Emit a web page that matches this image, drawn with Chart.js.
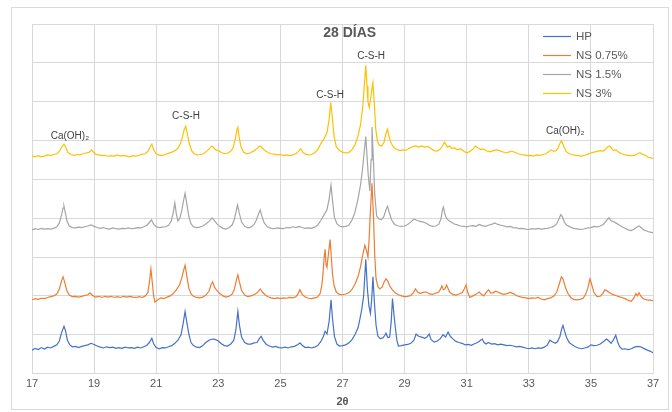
<!DOCTYPE html>
<html>
<head>
<meta charset="utf-8">
<script src="https://cdn.jsdelivr.net/npm/chart.js@4.4.0/dist/chart.umd.min.js"></script>
<style>
  html, body { margin: 0; padding: 0; background: #ffffff; }
  canvas { display: block; }
</style>
</head>
<body>
<canvas id="xrdChart" width="672" height="412"></canvas>
<script>
// series labels and colours (Excel default palette)
const seriesNames = ['HP', 'NS 0.75%', 'NS 1.5%', 'NS 3%'];
const seriesColors = ['#4472C4', '#ED7D31', '#A5A5A5', '#FFC000'];

// [2θ, offset intensity]
const hpPoints = [
  [17.0,6.0],[17.1,6.5],[17.2,6.2],[17.3,6.7],[17.4,6.3],[17.5,6.8],[17.6,6.6],[17.7,7.0],[17.8,7.4],[17.88,8.4],
  [17.95,10.5],[18.03,12.2],[18.08,11.0],[18.14,8.6],[18.22,7.4],[18.3,6.9],[18.4,7.0],[18.5,6.7],[18.6,7.0],[18.7,7.2],
  [18.8,7.4],[18.9,7.8],[19.0,7.5],[19.1,7.1],[19.2,6.8],[19.3,6.6],[19.4,6.9],[19.5,6.7],[19.6,6.8],[19.7,6.5],
  [19.8,6.7],[19.9,6.5],[20.0,6.8],[20.1,6.6],[20.2,6.7],[20.3,6.5],[20.4,6.8],[20.5,6.6],[20.6,6.9],[20.7,7.3],
  [20.78,8.0],[20.86,9.1],[20.92,7.6],[21.0,6.7],[21.1,6.4],[21.2,6.7],[21.3,6.6],[21.4,6.9],[21.5,7.2],[21.6,7.8],
  [21.7,8.6],[21.8,10.0],[21.87,13.0],[21.93,16.0],[21.98,13.5],[22.05,10.2],[22.12,8.0],[22.2,7.2],[22.3,6.8],[22.4,6.7],
  [22.5,7.2],[22.6,8.0],[22.7,8.6],[22.8,8.9],[22.9,8.8],[23.0,8.4],[23.1,7.7],[23.2,7.2],[23.3,7.1],[23.4,7.6],
  [23.5,8.6],[23.57,11.5],[23.63,16.0],[23.68,12.5],[23.75,9.4],[23.85,8.0],[23.95,7.6],[24.05,7.6],[24.15,7.9],[24.25,8.0],
  [24.32,9.0],[24.38,9.6],[24.45,8.5],[24.55,7.5],[24.65,7.1],[24.75,6.8],[24.85,7.0],[24.95,6.7],[25.05,6.6],[25.15,6.8],
  [25.25,6.6],[25.35,6.9],[25.45,7.0],[25.55,7.4],[25.63,7.9],[25.7,7.3],[25.8,6.7],[25.9,6.8],[26.0,6.6],[26.1,6.8],
  [26.2,7.2],[26.3,8.2],[26.38,9.5],[26.44,10.9],[26.5,10.2],[26.57,13.5],[26.63,19.0],[26.68,14.0],[26.74,9.6],[26.82,7.6],
  [26.9,7.1],[27.0,7.2],[27.1,7.4],[27.2,7.9],[27.3,8.7],[27.4,10.0],[27.5,11.8],[27.56,14.0],[27.62,16.5],[27.68,20.0],
  [27.75,29.4],[27.8,22.0],[27.85,17.5],[27.9,15.5],[27.94,19.0],[27.98,24.9],[28.03,18.0],[28.08,12.5],[28.14,9.6],[28.22,9.0],
  [28.3,9.2],[28.36,9.8],[28.4,10.4],[28.46,9.3],[28.52,9.4],[28.57,13.5],[28.61,19.3],[28.66,15.0],[28.7,12.0],[28.75,8.6],
  [28.8,7.1],[28.9,7.2],[29.0,7.4],[29.1,7.5],[29.2,7.8],[29.3,8.6],[29.37,10.2],[29.45,9.6],[29.55,9.4],[29.65,9.1],
  [29.72,9.4],[29.79,10.2],[29.85,8.8],[29.95,8.1],[30.05,8.4],[30.15,9.0],[30.24,10.0],[30.32,9.4],[30.4,10.7],[30.47,9.6],
  [30.55,9.0],[30.65,8.3],[30.75,8.0],[30.85,7.8],[30.95,7.4],[31.05,7.5],[31.15,7.3],[31.25,7.7],[31.35,8.0],[31.45,8.6],
  [31.5,8.9],[31.56,8.0],[31.62,7.6],[31.7,8.0],[31.8,7.6],[31.9,7.7],[32.0,7.4],[32.1,7.6],[32.2,7.4],[32.3,7.2],
  [32.4,7.3],[32.5,7.1],[32.6,6.9],[32.7,7.0],[32.8,6.8],[32.9,6.6],[33.0,6.4],[33.1,6.6],[33.2,6.4],[33.3,6.6],
  [33.4,6.5],[33.5,6.8],[33.6,7.4],[33.68,8.6],[33.76,8.2],[33.85,7.8],[33.92,8.2],[34.0,9.5],[34.06,11.5],[34.1,12.4],
  [34.15,11.0],[34.22,9.2],[34.3,8.0],[34.4,7.4],[34.5,6.9],[34.6,6.6],[34.7,6.4],[34.8,6.6],[34.9,6.8],[35.0,7.4],
  [35.1,7.2],[35.2,7.3],[35.3,7.6],[35.4,8.2],[35.5,8.9],[35.58,8.4],[35.65,7.8],[35.72,8.6],[35.8,9.9],[35.86,8.2],
  [35.92,7.0],[36.0,6.3],[36.1,6.4],[36.2,6.2],[36.3,6.4],[36.4,6.8],[36.5,7.0],[36.6,6.9],[36.7,6.5],[36.8,6.1],
  [36.9,5.8],[37.0,5.4]
];

const ns075Points = [
  [17.0,19.0],[17.1,19.3],[17.2,19.1],[17.3,19.4],[17.4,19.3],[17.5,19.6],[17.6,19.8],[17.7,20.0],[17.8,20.5],[17.88,21.8],
  [17.95,23.8],[18.0,24.9],[18.05,23.6],[18.12,21.4],[18.2,20.2],[18.3,19.8],[18.4,19.9],[18.5,19.7],[18.6,19.9],[18.7,20.1],
  [18.8,20.3],[18.87,20.8],[18.95,20.1],[19.05,19.7],[19.15,19.9],[19.25,19.6],[19.35,19.9],[19.45,19.7],[19.55,19.9],[19.65,19.6],
  [19.75,19.8],[19.85,19.6],[19.95,19.9],[20.05,19.7],[20.15,19.9],[20.25,19.7],[20.35,19.6],[20.45,19.8],[20.55,19.6],[20.65,20.0],
  [20.73,20.8],[20.78,23.5],[20.83,26.9],[20.88,23.0],[20.92,19.8],[20.96,18.4],[21.05,19.0],[21.15,19.5],[21.25,19.3],[21.35,19.7],
  [21.45,20.0],[21.55,20.6],[21.65,21.6],[21.75,22.8],[21.82,24.5],[21.88,26.5],[21.93,27.9],[21.98,25.5],[22.05,22.0],[22.12,20.6],
  [22.2,19.9],[22.3,19.6],[22.4,19.5],[22.5,19.7],[22.6,20.2],[22.7,21.2],[22.77,23.0],[22.82,23.6],[22.88,22.2],[22.95,21.4],
  [23.05,20.6],[23.15,20.0],[23.25,19.7],[23.35,19.9],[23.45,20.5],[23.52,21.8],[23.58,24.0],[23.63,25.4],[23.68,23.6],[23.75,21.4],
  [23.85,20.2],[23.95,19.8],[24.05,20.0],[24.15,20.3],[24.25,20.8],[24.35,21.8],[24.42,21.0],[24.5,20.3],[24.6,19.8],[24.7,19.5],
  [24.8,19.3],[24.9,19.5],[25.0,19.3],[25.1,19.5],[25.2,19.4],[25.3,19.6],[25.4,19.5],[25.5,19.8],[25.57,20.6],[25.63,21.6],
  [25.7,20.4],[25.8,19.7],[25.9,19.4],[26.0,19.3],[26.1,19.5],[26.2,19.7],[26.28,20.6],[26.33,22.5],[26.37,25.6],[26.41,30.0],
  [26.44,32.0],[26.47,28.0],[26.5,27.4],[26.55,31.0],[26.6,34.5],[26.64,30.0],[26.68,25.5],[26.73,22.6],[26.8,21.0],[26.9,20.4],
  [27.0,20.3],[27.1,20.5],[27.2,20.8],[27.3,21.6],[27.4,23.0],[27.5,25.0],[27.58,27.5],[27.65,30.5],[27.72,33.0],[27.78,31.5],
  [27.82,30.0],[27.86,35.0],[27.9,42.0],[27.95,49.0],[28.0,40.0],[28.04,30.0],[28.08,24.5],[28.14,22.4],[28.2,21.8],[28.28,22.3],
  [28.34,23.6],[28.4,24.4],[28.46,23.8],[28.52,22.6],[28.6,21.6],[28.7,20.8],[28.8,20.3],[28.9,20.0],[29.0,19.8],[29.1,19.9],
  [29.2,20.1],[29.28,20.8],[29.35,21.8],[29.42,21.0],[29.5,20.6],[29.6,20.9],[29.7,21.0],[29.8,20.5],[29.9,20.4],[30.0,20.7],
  [30.1,21.0],[30.16,21.8],[30.2,22.6],[30.25,21.6],[30.3,21.8],[30.35,22.8],[30.4,21.9],[30.45,21.0],[30.55,20.4],[30.65,20.2],
  [30.75,20.5],[30.85,20.8],[30.92,21.8],[30.98,22.8],[31.03,21.0],[31.1,19.6],[31.2,20.0],[31.3,20.4],[31.4,21.0],[31.47,20.4],
  [31.55,20.0],[31.62,20.8],[31.7,21.6],[31.77,20.8],[31.85,20.8],[31.93,21.2],[32.0,21.0],[32.1,20.6],[32.2,20.4],[32.3,20.6],
  [32.4,20.9],[32.5,20.6],[32.6,20.1],[32.7,19.8],[32.8,19.6],[32.9,19.5],[33.0,19.3],[33.1,19.5],[33.2,19.4],[33.3,19.6],
  [33.4,19.2],[33.5,19.0],[33.6,19.3],[33.7,19.5],[33.8,19.9],[33.9,21.0],[33.98,23.0],[34.05,24.9],[34.1,24.4],[34.18,22.2],
  [34.26,20.6],[34.35,19.6],[34.45,19.1],[34.55,19.0],[34.65,19.1],[34.75,19.4],[34.83,20.4],[34.9,22.0],[34.97,24.4],[35.03,22.8],
  [35.1,20.8],[35.2,19.8],[35.3,19.9],[35.38,20.6],[35.45,21.6],[35.52,21.3],[35.6,20.8],[35.7,20.4],[35.8,20.1],[35.9,19.8],
  [36.0,19.6],[36.1,19.3],[36.2,18.9],[36.3,18.6],[36.38,19.4],[36.45,20.6],[36.5,20.0],[36.55,20.8],[36.62,19.8],[36.7,19.2],
  [36.8,19.0],[36.9,18.9],[37.0,18.8]
];

const ns15Points = [
  [17.0,37.0],[17.1,37.3],[17.2,37.1],[17.3,37.4],[17.4,37.2],[17.5,37.3],[17.6,37.2],[17.7,37.4],[17.8,37.8],[17.88,38.8],
  [17.95,40.8],[18.0,42.6],[18.03,43.1],[18.07,41.6],[18.13,39.2],[18.2,38.0],[18.3,37.6],[18.4,37.5],[18.5,37.7],[18.6,37.6],
  [18.7,37.8],[18.8,38.0],[18.9,38.3],[19.0,37.9],[19.1,37.6],[19.2,37.4],[19.3,37.6],[19.4,37.3],[19.5,37.2],[19.6,37.5],
  [19.7,37.3],[19.8,37.2],[19.9,37.4],[20.0,37.3],[20.1,37.5],[20.2,37.3],[20.3,37.4],[20.4,37.6],[20.5,37.5],[20.6,37.8],
  [20.7,38.2],[20.78,38.9],[20.85,39.6],[20.92,38.4],[21.0,37.8],[21.1,37.6],[21.2,37.7],[21.3,37.8],[21.4,38.2],[21.48,39.2],
  [21.55,41.5],[21.6,43.9],[21.65,41.0],[21.7,39.3],[21.76,40.0],[21.82,41.8],[21.88,44.5],[21.93,46.4],[21.98,44.0],[22.05,40.5],
  [22.12,38.6],[22.2,37.8],[22.3,37.6],[22.4,37.7],[22.5,38.0],[22.6,38.5],[22.7,39.2],[22.8,40.1],[22.88,39.4],[22.95,38.6],
  [23.05,37.9],[23.15,37.4],[23.25,37.2],[23.35,37.6],[23.45,38.3],[23.52,39.8],[23.58,42.0],[23.62,43.4],[23.67,41.5],[23.75,39.0],
  [23.85,37.9],[23.95,37.5],[24.05,37.7],[24.15,38.4],[24.22,39.4],[24.3,41.2],[24.35,42.1],[24.4,40.6],[24.48,38.8],[24.58,37.8],
  [24.7,37.4],[24.8,37.3],[24.9,37.5],[25.0,37.4],[25.1,37.3],[25.2,37.6],[25.3,37.5],[25.4,37.8],[25.5,37.6],[25.6,37.9],
  [25.7,37.6],[25.8,37.4],[25.9,37.5],[26.0,37.4],[26.1,37.7],[26.2,38.2],[26.3,39.4],[26.4,40.8],[26.5,42.2],[26.57,45.0],
  [26.63,48.5],[26.68,44.5],[26.74,40.2],[26.82,38.6],[26.9,38.0],[27.0,37.8],[27.1,37.9],[27.2,38.2],[27.3,39.4],[27.4,41.5],
  [27.5,45.0],[27.58,48.5],[27.65,53.0],[27.71,58.0],[27.75,61.0],[27.79,56.0],[27.83,51.0],[27.88,47.0],[27.92,55.0],[27.95,63.5],
  [27.99,56.0],[28.04,46.0],[28.1,40.5],[28.18,39.8],[28.25,39.6],[28.33,40.4],[28.4,42.2],[28.45,43.1],[28.5,41.6],[28.58,39.6],
  [28.68,38.4],[28.8,38.0],[28.9,37.9],[29.0,38.0],[29.1,38.4],[29.2,39.0],[29.3,39.8],[29.4,39.4],[29.5,39.2],[29.6,39.0],
  [29.7,38.7],[29.8,38.2],[29.9,37.9],[30.0,38.0],[30.1,38.4],[30.17,39.8],[30.22,42.2],[30.25,42.9],[30.3,41.0],[30.35,40.0],
  [30.42,39.4],[30.5,39.0],[30.6,38.5],[30.7,38.3],[30.8,38.0],[30.9,37.9],[31.0,37.8],[31.1,38.0],[31.2,38.1],[31.3,37.9],
  [31.4,38.4],[31.5,38.1],[31.6,37.9],[31.7,38.2],[31.8,38.4],[31.9,38.8],[32.0,38.4],[32.1,38.2],[32.2,38.0],[32.3,37.8],
  [32.4,37.9],[32.5,37.6],[32.6,37.5],[32.7,37.3],[32.8,37.4],[32.9,37.2],[33.0,37.1],[33.1,37.3],[33.2,37.2],[33.3,37.4],
  [33.4,37.2],[33.5,37.3],[33.6,37.4],[33.7,37.6],[33.8,37.9],[33.9,38.6],[33.97,39.8],[34.03,40.9],[34.08,40.4],[34.15,38.9],
  [34.22,38.2],[34.3,37.9],[34.4,37.5],[34.5,37.3],[34.6,37.2],[34.7,37.1],[34.8,37.3],[34.9,37.5],[35.0,37.6],[35.1,37.9],
  [35.2,37.8],[35.3,38.0],[35.4,38.4],[35.5,39.4],[35.58,40.1],[35.64,39.4],[35.7,39.2],[35.8,38.8],[35.9,38.3],[36.0,37.8],
  [36.1,37.4],[36.2,37.0],[36.3,36.8],[36.4,37.2],[36.5,37.8],[36.55,38.0],[36.62,37.6],[36.7,37.0],[36.8,36.7],[36.9,36.4],
  [37.0,36.3]
];

const ns3Points = [
  [17.0,56.0],[17.1,55.8],[17.2,56.1],[17.3,55.8],[17.4,56.0],[17.5,56.3],[17.6,56.1],[17.7,56.4],[17.8,56.6],[17.88,57.2],
  [17.95,58.2],[18.03,59.1],[18.08,58.4],[18.15,57.0],[18.25,56.4],[18.35,56.2],[18.45,56.4],[18.55,56.3],[18.65,56.6],[18.75,56.8],
  [18.85,57.0],[18.92,57.6],[18.98,57.0],[19.05,56.5],[19.15,56.3],[19.25,56.1],[19.35,56.2],[19.45,55.9],[19.55,56.1],[19.65,56.0],
  [19.75,56.3],[19.85,56.0],[19.95,56.2],[20.05,56.0],[20.15,55.8],[20.25,56.1],[20.35,56.0],[20.45,56.2],[20.55,56.5],[20.65,56.6],
  [20.75,57.4],[20.82,58.6],[20.86,59.1],[20.92,57.6],[21.0,56.6],[21.1,56.2],[21.2,56.2],[21.3,56.4],[21.4,56.7],[21.5,57.0],
  [21.6,57.4],[21.7,58.0],[21.78,59.2],[21.85,61.0],[21.9,62.8],[21.95,63.7],[22.0,62.0],[22.06,59.4],[22.14,57.4],[22.22,56.6],
  [22.32,56.3],[22.42,56.4],[22.52,56.6],[22.62,57.2],[22.7,57.8],[22.78,58.6],[22.85,58.2],[22.92,57.6],[23.0,57.4],[23.1,56.9],
  [23.2,56.6],[23.3,56.8],[23.4,57.2],[23.48,58.2],[23.55,60.5],[23.6,62.8],[23.63,63.4],[23.67,61.0],[23.73,58.4],[23.82,57.0],
  [23.92,56.6],[24.02,56.8],[24.12,57.2],[24.22,57.8],[24.3,58.4],[24.36,58.6],[24.42,58.0],[24.5,57.4],[24.6,56.9],[24.7,56.6],
  [24.8,56.5],[24.9,56.3],[25.0,56.4],[25.1,56.2],[25.2,56.3],[25.3,56.1],[25.4,56.3],[25.5,56.6],[25.58,57.2],[25.65,57.9],
  [25.72,57.0],[25.8,56.5],[25.9,56.3],[26.0,56.4],[26.1,56.8],[26.2,57.6],[26.3,59.2],[26.4,60.4],[26.5,62.0],[26.57,65.5],
  [26.62,69.8],[26.67,66.0],[26.73,61.0],[26.8,58.4],[26.9,57.4],[27.0,57.0],[27.1,56.8],[27.2,56.9],[27.3,57.6],[27.4,58.8],
  [27.5,61.2],[27.58,64.0],[27.65,68.5],[27.7,74.0],[27.75,79.4],[27.79,74.0],[27.82,70.0],[27.86,68.5],[27.9,70.5],[27.94,73.0],
  [27.98,74.9],[28.02,70.0],[28.07,63.0],[28.12,60.0],[28.18,58.8],[28.26,58.6],[28.34,59.6],[28.4,61.8],[28.45,62.9],[28.5,61.0],
  [28.56,59.4],[28.65,58.2],[28.75,57.7],[28.85,57.4],[28.95,57.6],[29.05,57.5],[29.15,58.0],[29.25,58.4],[29.35,58.6],[29.45,58.3],
  [29.55,58.6],[29.65,58.3],[29.75,58.5],[29.85,57.9],[29.95,57.4],[30.05,57.3],[30.15,57.8],[30.22,58.6],[30.28,59.6],[30.33,59.0],
  [30.38,58.3],[30.45,58.6],[30.52,58.0],[30.6,58.1],[30.7,57.6],[30.8,57.9],[30.9,57.3],[31.0,56.8],[31.1,57.2],[31.2,57.8],
  [31.28,58.6],[31.35,58.2],[31.45,57.7],[31.55,57.8],[31.65,57.3],[31.75,57.1],[31.85,57.4],[31.95,57.6],[32.05,57.4],[32.15,57.1],
  [32.25,56.8],[32.35,57.0],[32.45,57.3],[32.55,57.0],[32.65,56.6],[32.75,56.4],[32.85,56.3],[32.95,56.1],[33.05,56.2],[33.15,56.0],
  [33.25,56.3],[33.35,56.2],[33.45,56.4],[33.55,56.6],[33.65,57.2],[33.72,57.6],[33.8,57.2],[33.88,57.4],[33.95,58.2],[34.02,59.6],
  [34.06,59.9],[34.12,58.6],[34.2,57.2],[34.3,56.6],[34.4,56.4],[34.5,56.2],[34.6,56.1],[34.7,56.0],[34.8,56.2],[34.9,56.5],
  [35.0,56.8],[35.1,57.0],[35.2,57.2],[35.3,57.4],[35.4,57.3],[35.48,57.8],[35.55,58.4],[35.6,58.6],[35.65,58.2],[35.72,57.4],
  [35.8,57.6],[35.9,57.0],[36.0,56.6],[36.1,56.3],[36.2,56.2],[36.3,56.1],[36.4,56.2],[36.5,56.6],[36.58,56.9],[36.65,56.5],
  [36.75,56.2],[36.85,55.7],[36.95,55.5],[37.0,55.3]
];

// peak labels: text, 2θ, height
const peakLabels = ['Ca(OH)₂', 'C-S-H', 'C-S-H', 'C-S-H', 'Ca(OH)₂'];
const peakX = [18.22, 21.96, 26.6, 27.92, 34.17];
const peakY = [61.2, 66.2, 71.6, 81.7, 62.4];

const chartTitle = '28 DÍAS';
const axisTitle = '2θ';

const FONT = "'Liberation Sans', 'DejaVu Sans', sans-serif";
const GRID = '#d9d9d9';
const TEXT = '#595959';

const allPoints = [hpPoints, ns075Points, ns15Points, ns3Points];

const extras = {
    id: 'extras',
    beforeDraw(chart) {
        const c = chart.ctx;
        c.save();
        c.strokeStyle = GRID;
        c.lineWidth = 1;
        c.strokeRect(11.5, 7.5, 657, 402);
        c.restore();
    },
    afterDatasetsDraw(chart) {
        const c = chart.ctx;
        const area = chart.chartArea;
        const xs = chart.scales.x, ys = chart.scales.y;
        c.save();
        c.textBaseline = 'middle';

        // title sits inside the plot
        c.fillStyle = TEXT;
        c.font = 'bold 14px ' + FONT;
        c.textAlign = 'center';
        c.fillText(chartTitle, xs.getPixelForValue(27.23), ys.getPixelForValue(87.6));

        // peak labels
        c.fillStyle = '#404040';
        c.font = '10px ' + FONT;
        peakLabels.forEach(function (t, i) {
            c.fillText(t, xs.getPixelForValue(peakX[i]), ys.getPixelForValue(peakY[i]));
        });

        // legend in the top right corner
        c.textAlign = 'left';
        c.font = '11.5px ' + FONT;
        chart.data.datasets.forEach(function (ds, i) {
            const y = area.top + 12.5 + i * 19;
            c.strokeStyle = ds.borderColor;
            c.lineWidth = 1.2;
            c.beginPath();
            c.moveTo(area.right - 110, y);
            c.lineTo(area.right - 82, y);
            c.stroke();
            c.fillStyle = TEXT;
            c.fillText(ds.label, area.right - 77, y);
        });
        c.restore();
    }
};

const chart = new Chart(document.getElementById('xrdChart').getContext('2d'), {
    type: 'line',
    data: {
        datasets: seriesNames.map(function (name, i) {
            return {
                label: name,
                data: allPoints[i].map(p => ({ x: p[0], y: p[1] })),
                borderColor: seriesColors[i],
                backgroundColor: seriesColors[i],
                borderWidth: 1.2,
                pointRadius: 0,
                tension: 0,
                fill: false
            };
        })
    },
    options: {
        responsive: false,
        animation: false,
        layout: { padding: { left: 32, right: 19, top: 24, bottom: 3 } },
        scales: {
            x: {
                type: 'linear',
                min: 17,
                max: 37,
                ticks: {
                    stepSize: 2,
                    padding: 4,
                    color: TEXT,
                    font: { family: FONT, size: 11 }
                },
                grid: { color: GRID, drawTicks: false },
                border: { color: GRID },
                title: {
                    display: true,
                    text: axisTitle,
                    color: TEXT,
                    padding: { top: 1, bottom: 0 },
                    font: { family: FONT, size: 11, weight: 'bold' }
                }
            },
            y: {
                min: 0,
                max: 90,
                ticks: { display: false, stepSize: 10 },
                grid: { color: GRID, drawTicks: false },
                border: { color: GRID }
            }
        },
        plugins: {
            legend: { display: false },
            tooltip: { enabled: false }
        }
    },
    plugins: [extras]
});
</script>
</body>
</html>
